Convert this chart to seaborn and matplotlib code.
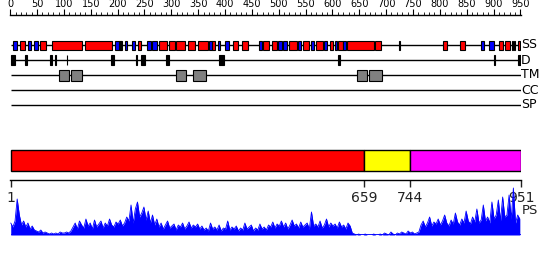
import numpy as np
import pandas as pd
import matplotlib
matplotlib.use("Agg")
import matplotlib.pyplot as plt
import seaborn as sns

# ---------------- data ----------------
seq_len = 951
top_ticks = list(range(0, 951, 50))
track_names = ["SS", "D", "TM", "CC", "SP"]

helices = [(18, 28), (56, 66), (77, 133), (139, 190), (203, 209), (238, 243),
           (278, 292), (295, 307), (309, 326), (331, 345), (350, 368), (375, 381),
           (415, 424), (432, 442), (471, 481), (487, 497), (520, 534), (545, 556),
           (569, 583), (595, 601), (611, 619), (627, 678), (680, 691), (806, 813),
           (837, 846), (911, 917), (921, 930), (945, 949)]
strands = [(6, 12), (34, 39), (45, 51), (195, 202), (213, 218), (226, 233),
           (254, 263), (264, 273), (370, 375), (387, 390), (400, 407), (463, 468),
           (499, 507), (508, 516), (535, 541), (560, 566), (584, 590), (604, 609),
           (619, 625), (876, 882), (892, 900)]
ss_marks = [(205, 206), (724, 725), (935, 936), (939, 940)]
disorder = [(1, 9), (28, 32), (75, 78), (84, 85), (105, 106), (188, 194),
            (234, 237), (244, 247), (248, 251), (291, 296), (389, 398),
            (610, 615), (901, 902), (946, 951)]
transmem = [(90, 109), (113, 133), (309, 328), (341, 365), (645, 665), (668, 692)]

domain_bounds = [1, 659, 744, 951]
domain_colors = ["#ff0000", "#ffff00", "#ff00ff"]

ps_values = [
    12, 8, 14, 36, 20,
    10, 14, 8, 12, 6, 9, 5,
    4, 3, 5, 2, 3, 2, 1, 2, 1, 2, 1, 3, 2, 2, 3, 2, 4,
    8, 12, 6, 14, 10, 7, 16, 9, 12, 6, 15, 8, 11, 14, 7, 12, 9, 16, 10, 8, 13, 11, 15, 9, 12, 18,
    14, 30, 12, 26, 33, 18, 22, 28, 15, 24, 12, 20, 10, 16,
    8, 12, 6, 10, 14, 7, 9, 11, 5, 10, 8, 12, 6, 9, 13, 7, 10, 8, 11, 6, 9,
    5, 7, 4, 12, 6, 8, 5, 10, 4, 7, 6, 14, 5, 8, 6, 9, 4, 7, 5, 12, 6, 8, 10, 4, 7, 5, 11, 6, 8, 5,
    10, 8, 13, 7, 11, 9, 14, 8, 12, 6, 10, 15, 9, 11, 7, 13, 8, 10, 12, 6, 23, 9, 11, 8, 14, 7, 10,
    16, 8, 12, 9, 11, 7, 13, 8, 10, 6, 12, 9,
    2, 1, 0, 1, 0, 0, 1, 0, 0, 0, 1, 0, 0, 1, 0, 2, 1, 0, 3, 1, 0, 2, 1, 3, 2, 1, 4, 2, 3, 1, 2, 3,
    10, 14, 8, 12, 18, 9, 13, 11, 16, 10, 14, 20, 12, 9, 15, 11, 22, 13, 10, 16, 12, 24, 14, 11,
    18, 13, 26, 12, 15, 30, 14, 18, 12, 33, 16, 20, 35, 14, 38, 18, 20, 40, 16, 47, 12, 20, 16,
]
ps_residues = np.arange(1, 1 + 4 * len(ps_values), 4)

# ---------------- figure ----------------
sns.set_theme(style="white")
plt.rcParams["font.family"] = ["DejaVu Sans"]

W, H = 550, 260
fig = plt.figure(figsize=(W / 100, H / 100), dpi=100)
fig.patch.set_facecolor("white")
X0, X1 = 10.2, 520.9


def px_axes(x0, y0, x1, y1):
    ax = fig.add_axes([x0 / W, 1 - y1 / H, (x1 - x0) / W, (y1 - y0) / H])
    ax.set_facecolor("none")
    ax.grid(False)
    return ax


# ---- top tracks ----
ax = px_axes(X0, 15, X1, 112)
ax.set_xlim(0, seq_len)
ax.set_ylim(112, 15)
for s in ["left", "right", "bottom"]:
    ax.spines[s].set_visible(False)
ax.spines["top"].set_color("black")
ax.spines["top"].set_linewidth(1)
ax.xaxis.tick_top()
ax.set_xticks(top_ticks)
ax.set_xticks(list(range(0, 951, 10)), minor=True)
ax.tick_params(axis="x", which="major", direction="out", length=4, width=0.8,
               labelsize=7, pad=0.5, colors="black", top=True, bottom=False)
ax.tick_params(axis="x", which="minor", direction="out", length=2, width=0.6,
               top=True, bottom=False, colors="black")
ax.set_yticks([])

track_y = dict(zip(track_names, [45, 60, 75, 90, 105]))
for name, y in track_y.items():
    ax.hlines(y, 1, seq_len, color="black", lw=1, zorder=1)
    ax.text(seq_len + 0.5, y, name, ha="left", va="center", fontsize=9,
            color="black", clip_on=False)


def draw_boxes(items, y, h, color, lw=0.8):
    starts = [a for a, b in items]
    widths = [b - a for a, b in items]
    ax.barh([y] * len(items), widths, left=starts, height=h, color=color,
            edgecolor="black", linewidth=lw, zorder=2)


draw_boxes(helices, track_y["SS"], 9, "#ff0000")
draw_boxes(strands, track_y["SS"], 9, "#0000ff")
draw_boxes(ss_marks, track_y["SS"], 9, "black")
draw_boxes(disorder, track_y["D"], 10, "black")
draw_boxes(transmem, track_y["TM"], 11, "#808080")

# ---- domain bar ----
axd = px_axes(X0, 145, X1, 180)
axd.set_xlim(0, seq_len)
axd.set_ylim(180, 145)
for s in ["left", "right", "top"]:
    axd.spines[s].set_visible(False)
axd.spines["bottom"].set_color("black")
axd.spines["bottom"].set_linewidth(1)
starts = domain_bounds[:-1]
widths = [b - a for a, b in zip(domain_bounds[:-1], domain_bounds[1:])]
axd.barh([160.5] * len(starts), widths, left=starts, height=21,
         color=domain_colors, edgecolor="black", linewidth=1)
axd.set_xticks(domain_bounds)
axd.set_xticklabels([str(v) for v in domain_bounds])
axd.tick_params(axis="x", direction="out", length=5, width=1, labelsize=10,
                pad=3, colors="#222222", bottom=True)
axd.set_yticks([])

# ---- PS profile ----
axp = px_axes(X0, 187, X1, 235)
ps_df = pd.DataFrame({"residue": ps_residues, "ps": ps_values})
sns.lineplot(data=ps_df, x="residue", y="ps", color="blue", linewidth=0.6, ax=axp)
axp.fill_between(ps_df["residue"], ps_df["ps"], color="blue", linewidth=0)
axp.hlines(0, 1, seq_len + 3, color="blue", lw=1.2)
axp.set_xlim(0, seq_len)
axp.set_ylim(0, 48)
axp.set_xlabel("")
axp.set_ylabel("")
axp.set_xticks([])
axp.set_yticks([])
for s in axp.spines.values():
    s.set_visible(False)
axp.text(seq_len + 1.5, 24, "PS", ha="left", va="center", fontsize=9.5,
         color="#222222", clip_on=False)

fig.savefig("out.png", dpi=100, facecolor="white")
